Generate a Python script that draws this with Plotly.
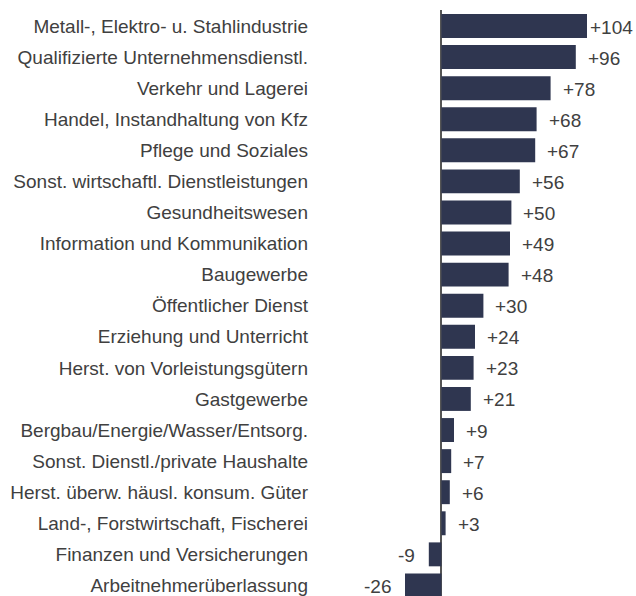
import plotly.graph_objects as go

categories = [
    "Metall-, Elektro- u. Stahlindustrie",
    "Qualifizierte Unternehmensdienstl.",
    "Verkehr und Lagerei",
    "Handel, Instandhaltung von Kfz",
    "Pflege und Soziales",
    "Sonst. wirtschaftl. Dienstleistungen",
    "Gesundheitswesen",
    "Information und Kommunikation",
    "Baugewerbe",
    "Öffentlicher Dienst",
    "Erziehung und Unterricht",
    "Herst. von Vorleistungsgütern",
    "Gastgewerbe",
    "Bergbau/Energie/Wasser/Entsorg.",
    "Sonst. Dienstl./private Haushalte",
    "Herst. überw. häusl. konsum. Güter",
    "Land-, Forstwirtschaft, Fischerei",
    "Finanzen und Versicherungen",
    "Arbeitnehmerüberlassung",
]
values = [104, 96, 78, 68, 67, 56, 50, 49, 48, 30, 24, 23, 21, 9, 7, 6, 3, -9, -26]
labels = [f"+{v}" if v > 0 else f"{v}" for v in values]

BAR = "#2f3650"
TXT = "#404040"
FONT = "Liberation Sans, Arial, sans-serif"

fig = go.Figure(go.Bar(
    x=values, y=categories, orientation="h",
    marker=dict(color=BAR, line=dict(width=0)),
    width=0.77, hoverinfo="skip",
))

vmax = max(values)
for c, v, t in zip(categories, values, labels):
    if v >= 0:
        fig.add_annotation(x=v, y=c, text=t, showarrow=False, xanchor="left",
                           xshift=1 if v == vmax else 10, yshift=-1,
                           font=dict(family=FONT, size=19, color=TXT))
    else:
        fig.add_annotation(x=v, y=c, text=t, showarrow=False, xanchor="right",
                           xshift=-12, yshift=-1,
                           font=dict(family=FONT, size=19, color=TXT))

fig.update_layout(
    width=636, height=596,
    margin=dict(l=314, r=0, t=10, b=0),
    paper_bgcolor="white", plot_bgcolor="white",
    showlegend=False,
    font=dict(family=FONT, size=19, color=TXT),
    xaxis=dict(range=[-91, 139], showgrid=False, showticklabels=False, ticks="",
               zeroline=True, zerolinecolor="#555555", zerolinewidth=2, fixedrange=True),
    yaxis=dict(range=[18.34, -0.515], showgrid=False, ticks="", ticklabelstandoff=5,
               tickfont=dict(family=FONT, size=19, color=TXT), fixedrange=True),
)

fig.write_html("out.html", config={"displayModeBar": False, "staticPlot": True},
               post_script="document.body.style.margin='0';document.body.style.overflow='hidden';")
